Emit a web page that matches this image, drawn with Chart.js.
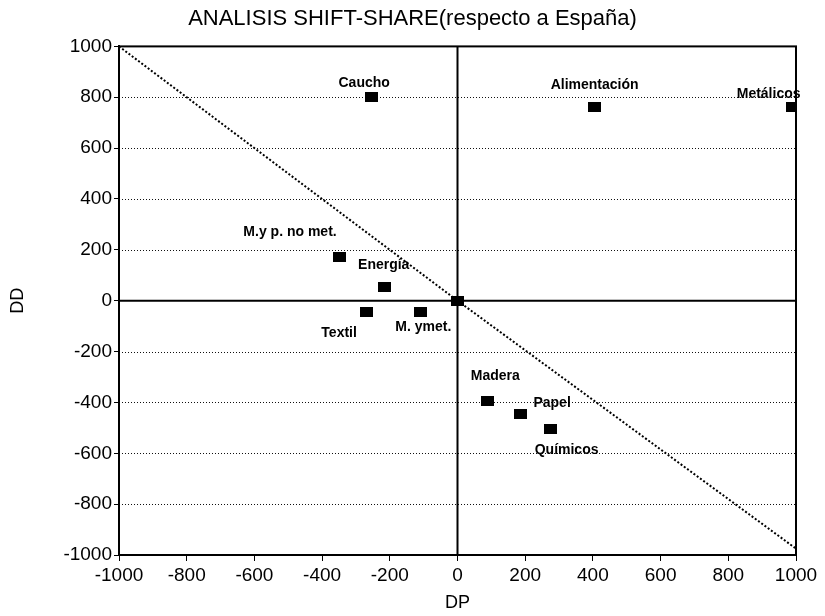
<!DOCTYPE html>
<html>
<head>
<meta charset="utf-8">
<script src="https://cdn.jsdelivr.net/npm/chart.js@4.4.1/dist/chart.umd.min.js"></script>
<style>
  html, body { margin: 0; padding: 0; background: #fff; }
  #wrap { width: 825px; height: 616px; }
</style>
</head>
<body>
<div id="wrap"><canvas id="shiftShare"></canvas></div>
<script>
// sectors and their shift-share components (DP = diferencial, DD = estructural)
const sectors = ['Caucho', 'Alimentación', 'Metálicos', 'M.y p. no met.', 'Energía', 'Textil', 'M. ymet.', '', 'Madera', 'Papel', 'Químicos'];
const dpValues = [-255, 405, 990, -350, -215, -270, -110, 0, 88, 185, 275];
const ddValues = [800, 760, 760, 170, 52, -45, -45, 0, -395, -445, -505];

// reference diagonal DD = -DP
const diagonalX = [-1000, 0, 1000];
const diagonalY = [1000, 0, -975];

const tickValues = [-1000, -800, -600, -400, -200, 0, 200, 400, 600, 800, 1000];

// where each name sits relative to its square (px)
const labelOffsets = [[-7, -14], [0, -22], [-24, -13], [-49, -25], [-1, -22], [-27, 21], [3, 15], [0, 0], [8, -25], [32, -11], [16, 21]];

const toPoints = (xs, ys) => xs.map((x, i) => ({ x: x, y: ys[i] }));

// black rectangular marker
const marker = document.createElement('canvas');
marker.width = 13;
marker.height = 10;
const mctx = marker.getContext('2d');
mctx.fillStyle = '#000';
mctx.fillRect(0, 0, 13, 10);

Chart.defaults.font.family = '"Liberation Sans", Arial, sans-serif';
Chart.defaults.color = '#000';

const frameAndLabels = {
    id: 'frameAndLabels',
    beforeDatasetsDraw(chart) {
        const { ctx, chartArea: a, scales: { y } } = chart;
        ctx.save();
        ctx.strokeStyle = '#111';
        ctx.lineWidth = 1;
        ctx.setLineDash([1, 2]);
        y.ticks.forEach(t => {
            if (t.value === 0 || Math.abs(t.value) === 1000) return;
            const py = Math.round(y.getPixelForValue(t.value)) + 0.5;
            ctx.beginPath();
            ctx.moveTo(a.left, py);
            ctx.lineTo(a.right, py);
            ctx.stroke();
        });
        ctx.restore();
    },
    afterDatasetsDraw(chart) {
        const { ctx, chartArea: a } = chart;
        ctx.save();
        ctx.strokeStyle = '#000';
        ctx.lineWidth = 2;
        ctx.strokeRect(a.left, a.top, a.right - a.left, a.bottom - a.top);

        ctx.font = 'bold 14px "Liberation Sans", Arial, sans-serif';
        ctx.fillStyle = '#000';
        ctx.textAlign = 'center';
        ctx.textBaseline = 'middle';
        chart.getDatasetMeta(0).data.forEach((pt, i) => {
            if (!sectors[i]) return;
            const [dx, dy] = labelOffsets[i];
            ctx.fillText(sectors[i], pt.x + dx, pt.y + dy);
        });
        ctx.restore();
    }
};

const plainTick = v => String(v);

new Chart(document.getElementById('shiftShare'), {
    type: 'scatter',
    data: {
        datasets: [
            {
                data: toPoints(dpValues, ddValues),
                pointStyle: marker,
                pointRadius: 7,
                showLine: false
            },
            {
                type: 'line',
                data: toPoints(diagonalX, diagonalY),
                borderColor: '#000',
                borderWidth: 2,
                borderDash: [2, 2],
                pointRadius: 0,
                fill: false
            },
            {
                type: 'line',
                data: toPoints([tickValues[0], tickValues[10]], [0, 0]),
                borderColor: '#000',
                borderWidth: 2,
                pointRadius: 0
            },
            {
                type: 'line',
                data: toPoints([0, 0], [tickValues[0], tickValues[10]]),
                borderColor: '#000',
                borderWidth: 2,
                pointRadius: 0
            }
        ]
    },
    options: {
        responsive: true,
        maintainAspectRatio: false,
        animation: false,
        layout: { padding: 0 },
        plugins: {
            legend: { display: false },
            tooltip: { enabled: false },
            title: {
                display: true,
                text: 'ANALISIS SHIFT-SHARE(respecto a España)',
                font: { size: 22, weight: 'normal' },
                color: '#000',
                padding: { top: 6, bottom: 14 }
            }
        },
        scales: {
            x: {
                type: 'linear',
                min: -1000,
                max: 1000,
                afterBuildTicks: s => { s.ticks = tickValues.map(v => ({ value: v })); },
                afterFit: s => { s.height = 61; },
                grid: { drawOnChartArea: false, color: '#000', tickLength: 6, lineWidth: 1 },
                border: { display: true, color: '#000', width: 2 },
                ticks: { font: { size: 19 }, padding: 3, maxRotation: 0, callback: plainTick },
                title: { display: true, text: 'DP', font: { size: 18 }, padding: { top: 4, bottom: 2 } }
            },
            y: {
                type: 'linear',
                min: -1000,
                max: 1000,
                afterBuildTicks: s => { s.ticks = tickValues.map(v => ({ value: v })); },
                afterFit: s => { s.width = 119; },
                grid: { drawOnChartArea: false, color: '#000', tickLength: 5, lineWidth: 1 },
                border: { display: true, color: '#000', width: 2 },
                ticks: { font: { size: 19 }, padding: 2, callback: plainTick },
                title: { display: true, text: 'DD', font: { size: 18 }, padding: { top: 7, bottom: 4 } }
            },
            // empty right-hand strip so the plot ends where the original does
            yRight: {
                type: 'linear',
                position: 'right',
                min: -1000,
                max: 1000,
                afterFit: s => { s.width = 29; },
                grid: { display: false },
                border: { display: false },
                ticks: { display: false }
            }
        }
    },
    plugins: [frameAndLabels]
});
</script>
</body>
</html>
